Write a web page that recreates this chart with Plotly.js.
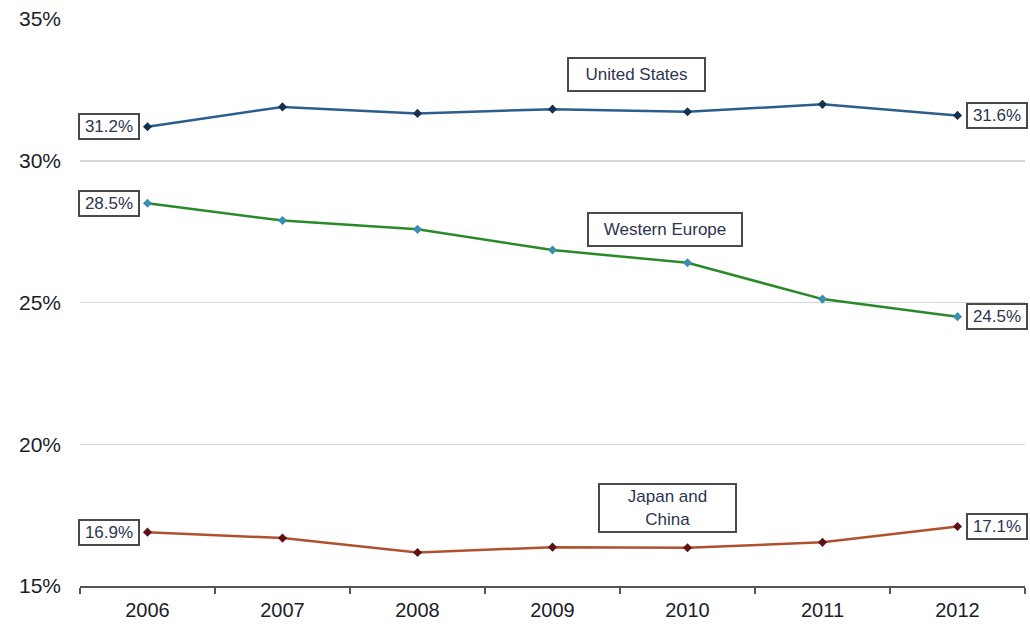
<!DOCTYPE html>
<html>
<head>
<meta charset="utf-8">
<script src="https://cdn.plot.ly/plotly-3.0.1.min.js"></script>
<style>html,body{margin:0;padding:0;background:#fff;}#chart{width:1030px;height:626px;}</style>
</head>
<body>
<div id="chart"></div>
<script>
const years = ['2006','2007','2008','2009','2010','2011','2012'];
const usValues = [31.2, 31.9, 31.67, 31.82, 31.73, 31.99, 31.6];
const weValues = [28.5, 27.89, 27.58, 26.85, 26.4, 25.12, 24.5];
const jcValues = [16.9, 16.69, 16.18, 16.37, 16.35, 16.54, 17.1];
const seriesNames = ['United States', 'Western Europe', 'Japan and<br>China'];
const yTicks = [15, 20, 25, 30, 35];
const yTickLabels = ['15%', '20%', '25%', '30%', '35%'];

const font = 'Liberation Sans, Arial, sans-serif';

function line(y, color, mcolor) {
  return {
    x: years, y: y, type: 'scatter', mode: 'lines+markers',
    line: {color: color, width: 2.5},
    marker: {symbol: 'diamond', size: 7, color: mcolor},
    hoverinfo: 'skip', showlegend: false
  };
}

const traces = [
  line(usValues, '#2b5e8c', '#16314f'),
  line(weValues, '#2a8a2a', '#3a8fb0'),
  line(jcValues, '#b0512e', '#5e1018')
];

const boxStyle = {
  showarrow: false, bgcolor: '#ffffff', bordercolor: '#4a4a4a', borderwidth: 2,
  font: {family: font, size: 17, color: '#2c3550'}
};

function endLabel(series, idx, left) {
  const v = series[idx];
  return Object.assign({}, boxStyle, {
    x: idx, y: v, xref: 'x', yref: 'y',
    text: v.toFixed(1) + '%',
    xanchor: left ? 'right' : 'left', yanchor: 'middle',
    xshift: left ? -8 : 8,
    width: 54, height: 19, borderpad: 2
  });
}

const last = years.length - 1;
const annotations = [
  endLabel(usValues, 0, true), endLabel(usValues, last, false),
  endLabel(weValues, 0, true), endLabel(weValues, last, false),
  endLabel(jcValues, 0, true), endLabel(jcValues, last, false),
  Object.assign({}, boxStyle, {x: 3.62, y: 33.06, xref: 'x', yref: 'y', text: seriesNames[0],
    width: 131, height: 27, borderpad: 2, xanchor: 'center', yanchor: 'middle'}),
  Object.assign({}, boxStyle, {x: 3.83, y: 27.57, xref: 'x', yref: 'y', text: seriesNames[1],
    width: 148, height: 27, borderpad: 2, xanchor: 'center', yanchor: 'middle'}),
  Object.assign({}, boxStyle, {x: 3.85, y: 17.74, xref: 'x', yref: 'y', text: seriesNames[2],
    width: 131, height: 42, borderpad: 2, xanchor: 'center', yanchor: 'middle'})
];

const layout = {
  width: 1030, height: 626,
  margin: {l: 80, r: 5, t: 19, b: 40},
  paper_bgcolor: '#ffffff', plot_bgcolor: '#ffffff',
  font: {family: font, color: '#1a1d2a'},
  xaxis: {
    type: 'category', range: [-0.5, 6.5], fixedrange: true,
    showgrid: false, zeroline: false,
    showline: true, linecolor: '#555555', linewidth: 2,
    ticks: 'outside', tickson: 'boundaries', ticklen: 6, tickwidth: 2, tickcolor: '#555555',
    ticklabelstandoff: 5,
    tickfont: {family: font, size: 20, color: '#1a1d2a'}
  },
  yaxis: {
    range: [15, 35], fixedrange: true,
    tickvals: yTicks, ticktext: yTickLabels,
    showgrid: true, gridcolor: '#d6d6d6', gridwidth: 1.5,
    zeroline: false, showline: false, ticks: '',
    ticklabelstandoff: 18,
    tickfont: {family: font, size: 21, color: '#1a1d2a'}
  },
  annotations: annotations
};

Plotly.newPlot('chart', traces, layout, {staticPlot: true, displayModeBar: false});
</script>
</body>
</html>
